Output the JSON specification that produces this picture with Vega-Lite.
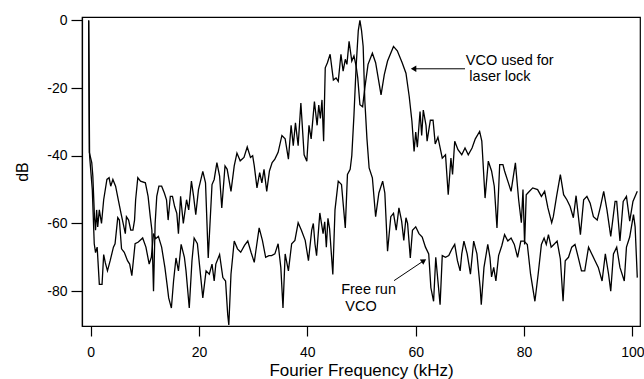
{
  "$schema": "https://vega.github.io/schema/vega-lite/v6.json",
  "autosize": {"type": "none"},
  "padding": {"left": 82, "top": 17, "right": 4, "bottom": 53},
  "width": 558,
  "height": 309,
  "config": {
    "font": "Liberation Sans",
    "view": {"stroke": "black", "strokeWidth": 1.2},
    "axis": {"domainColor": "black", "tickColor": "black", "labelColor": "black", "titleColor": "black", "grid": false, "labelFont": "Liberation Sans", "titleFont": "Liberation Sans", "titleFontWeight": "normal", "domainWidth": 1.2, "tickWidth": 1.2}
  },
  "datasets": {
    "traces": [
      {"s":"lock","f":-0.37,"d":0},{"s":"lock","f":-0.25,"d":-39},{"s":"lock","f":0.2,"d":-42},{"s":"lock","f":0.4,"d":-46},{"s":"lock","f":0.7,"d":-58},{"s":"lock","f":0.9,"d":-62},{"s":"lock","f":1.1,"d":-56},{"s":"lock","f":1.3,"d":-61},{"s":"lock","f":1.6,"d":-56},{"s":"lock","f":2.0,"d":-60},{"s":"lock","f":2.4,"d":-53},{"s":"lock","f":3.0,"d":-47},{"s":"lock","f":3.4,"d":-46.5},{"s":"lock","f":3.7,"d":-49},{"s":"lock","f":4.1,"d":-47},{"s":"lock","f":4.6,"d":-49},{"s":"lock","f":5.1,"d":-53},{"s":"lock","f":5.6,"d":-57},{"s":"lock","f":6.4,"d":-63},{"s":"lock","f":6.6,"d":-58},{"s":"lock","f":7.0,"d":-59},{"s":"lock","f":7.4,"d":-62},{"s":"lock","f":7.8,"d":-62},{"s":"lock","f":8.1,"d":-59},{"s":"lock","f":8.3,"d":-53},{"s":"lock","f":8.7,"d":-46.5},{"s":"lock","f":9.2,"d":-47.5},{"s":"lock","f":10.1,"d":-48},{"s":"lock","f":10.6,"d":-52},{"s":"lock","f":11.0,"d":-58},{"s":"lock","f":11.3,"d":-62},{"s":"lock","f":11.6,"d":-80},{"s":"lock","f":11.9,"d":-60},{"s":"lock","f":12.2,"d":-52},{"s":"lock","f":12.6,"d":-49},{"s":"lock","f":13.1,"d":-49},{"s":"lock","f":13.6,"d":-51},{"s":"lock","f":14.0,"d":-53},{"s":"lock","f":14.3,"d":-59},{"s":"lock","f":14.7,"d":-52},{"s":"lock","f":15.1,"d":-52},{"s":"lock","f":15.5,"d":-55},{"s":"lock","f":15.9,"d":-57},{"s":"lock","f":16.2,"d":-63},{"s":"lock","f":16.6,"d":-52},{"s":"lock","f":17.1,"d":-60},{"s":"lock","f":17.7,"d":-53},{"s":"lock","f":18.1,"d":-56},{"s":"lock","f":18.6,"d":-47.5},{"s":"lock","f":19.0,"d":-52},{"s":"lock","f":19.4,"d":-57.4},{"s":"lock","f":19.9,"d":-50},{"s":"lock","f":20.7,"d":-44.6},{"s":"lock","f":21.2,"d":-48},{"s":"lock","f":21.7,"d":-70.2},{"s":"lock","f":22.4,"d":-48.5},{"s":"lock","f":22.8,"d":-47},{"s":"lock","f":23.3,"d":-42},{"s":"lock","f":23.8,"d":-46},{"s":"lock","f":24.2,"d":-55.4},{"s":"lock","f":24.8,"d":-43},{"s":"lock","f":25.2,"d":-44},{"s":"lock","f":25.9,"d":-50.5},{"s":"lock","f":26.5,"d":-43},{"s":"lock","f":27.0,"d":-39.2},{"s":"lock","f":27.6,"d":-41.5},{"s":"lock","f":28.3,"d":-40.5},{"s":"lock","f":28.9,"d":-37.4},{"s":"lock","f":29.5,"d":-40.5},{"s":"lock","f":29.9,"d":-40},{"s":"lock","f":30.2,"d":-43},{"s":"lock","f":30.7,"d":-49.5},{"s":"lock","f":31.2,"d":-45},{"s":"lock","f":31.6,"d":-48},{"s":"lock","f":32.0,"d":-44},{"s":"lock","f":32.5,"d":-50.5},{"s":"lock","f":33.0,"d":-44.5},{"s":"lock","f":33.5,"d":-42},{"s":"lock","f":34.0,"d":-41},{"s":"lock","f":34.6,"d":-39},{"s":"lock","f":35.3,"d":-34},{"s":"lock","f":35.9,"d":-35},{"s":"lock","f":36.5,"d":-41},{"s":"lock","f":37.0,"d":-31},{"s":"lock","f":37.4,"d":-37},{"s":"lock","f":37.8,"d":-30.3},{"s":"lock","f":38.3,"d":-37},{"s":"lock","f":38.8,"d":-24.4},{"s":"lock","f":39.4,"d":-39.7},{"s":"lock","f":39.9,"d":-41.6},{"s":"lock","f":40.3,"d":-31},{"s":"lock","f":40.7,"d":-35},{"s":"lock","f":41.3,"d":-24},{"s":"lock","f":41.8,"d":-31},{"s":"lock","f":42.1,"d":-25},{"s":"lock","f":42.4,"d":-29},{"s":"lock","f":42.7,"d":-23.5},{"s":"lock","f":43.0,"d":-35.7},{"s":"lock","f":43.3,"d":-14},{"s":"lock","f":43.7,"d":-12.5},{"s":"lock","f":44.2,"d":-10},{"s":"lock","f":44.8,"d":-17.6},{"s":"lock","f":45.3,"d":-17},{"s":"lock","f":45.7,"d":-18},{"s":"lock","f":46.2,"d":-10},{"s":"lock","f":46.6,"d":-15},{"s":"lock","f":47.0,"d":-11.5},{"s":"lock","f":47.3,"d":-13},{"s":"lock","f":47.7,"d":-6.2},{"s":"lock","f":48.2,"d":-12},{"s":"lock","f":48.6,"d":-10.5},{"s":"lock","f":49.0,"d":-13.5},{"s":"lock","f":49.3,"d":-17},{"s":"lock","f":49.7,"d":-24.9},{"s":"lock","f":50.2,"d":-25.5},{"s":"lock","f":50.6,"d":-20},{"s":"lock","f":51.2,"d":-13},{"s":"lock","f":52.0,"d":-9.7},{"s":"lock","f":52.6,"d":-12.5},{"s":"lock","f":53.6,"d":-22},{"s":"lock","f":54.2,"d":-16},{"s":"lock","f":54.8,"d":-12},{"s":"lock","f":55.9,"d":-7.7},{"s":"lock","f":56.6,"d":-9},{"s":"lock","f":57.5,"d":-12.5},{"s":"lock","f":58.2,"d":-15.6},{"s":"lock","f":58.8,"d":-22.5},{"s":"lock","f":59.3,"d":-29.8},{"s":"lock","f":59.7,"d":-38.7},{"s":"lock","f":60.0,"d":-33},{"s":"lock","f":60.3,"d":-37.5},{"s":"lock","f":60.8,"d":-26.9},{"s":"lock","f":61.1,"d":-34},{"s":"lock","f":61.4,"d":-26.5},{"s":"lock","f":61.9,"d":-31},{"s":"lock","f":62.1,"d":-35.7},{"s":"lock","f":62.7,"d":-29.5},{"s":"lock","f":63.2,"d":-29.5},{"s":"lock","f":63.6,"d":-36.5},{"s":"lock","f":64.1,"d":-34.5},{"s":"lock","f":64.9,"d":-40.7},{"s":"lock","f":65.5,"d":-39.7},{"s":"lock","f":66.0,"d":-51.5},{"s":"lock","f":66.5,"d":-40.7},{"s":"lock","f":66.8,"d":-45.5},{"s":"lock","f":67.2,"d":-35.7},{"s":"lock","f":67.8,"d":-38.2},{"s":"lock","f":68.5,"d":-39.7},{"s":"lock","f":69.1,"d":-37.7},{"s":"lock","f":69.7,"d":-39.7},{"s":"lock","f":70.4,"d":-37.7},{"s":"lock","f":71.0,"d":-35},{"s":"lock","f":71.8,"d":-32.8},{"s":"lock","f":72.2,"d":-35.7},{"s":"lock","f":72.8,"d":-52.5},{"s":"lock","f":73.4,"d":-41.6},{"s":"lock","f":74.0,"d":-44.5},{"s":"lock","f":74.5,"d":-49},{"s":"lock","f":75.0,"d":-61.3},{"s":"lock","f":75.5,"d":-42.6},{"s":"lock","f":76.1,"d":-42.6},{"s":"lock","f":76.4,"d":-44.5},{"s":"lock","f":77.0,"d":-47.5},{"s":"lock","f":77.6,"d":-50.5},{"s":"lock","f":78.4,"d":-42.1},{"s":"lock","f":79.0,"d":-53},{"s":"lock","f":79.5,"d":-59.8},{"s":"lock","f":79.8,"d":-50},{"s":"lock","f":80.1,"d":-66.2},{"s":"lock","f":80.4,"d":-51.5},{"s":"lock","f":81.0,"d":-50.5},{"s":"lock","f":81.6,"d":-49.5},{"s":"lock","f":82.5,"d":-50},{"s":"lock","f":83.2,"d":-52},{"s":"lock","f":83.8,"d":-50.5},{"s":"lock","f":84.4,"d":-55.4},{"s":"lock","f":85.1,"d":-59.8},{"s":"lock","f":85.4,"d":-58},{"s":"lock","f":86.0,"d":-52},{"s":"lock","f":86.7,"d":-45.6},{"s":"lock","f":87.3,"d":-51.5},{"s":"lock","f":87.9,"d":-53},{"s":"lock","f":88.5,"d":-55},{"s":"lock","f":89.1,"d":-58.3},{"s":"lock","f":89.6,"d":-51.8},{"s":"lock","f":90.4,"d":-63.3},{"s":"lock","f":91.0,"d":-53},{"s":"lock","f":91.6,"d":-52},{"s":"lock","f":92.2,"d":-54},{"s":"lock","f":92.8,"d":-58},{"s":"lock","f":93.5,"d":-59},{"s":"lock","f":94.1,"d":-55},{"s":"lock","f":94.7,"d":-50.5},{"s":"lock","f":95.3,"d":-56},{"s":"lock","f":96.0,"d":-63.8},{"s":"lock","f":96.8,"d":-53.5},{"s":"lock","f":97.1,"d":-53.5},{"s":"lock","f":97.7,"d":-65.2},{"s":"lock","f":98.3,"d":-53.5},{"s":"lock","f":98.9,"d":-52},{"s":"lock","f":99.5,"d":-59.3},{"s":"lock","f":100.1,"d":-53.5},{"s":"lock","f":100.9,"d":-50.5},
      {"s":"free","f":-0.37,"d":0},{"s":"free","f":-0.2,"d":-40},{"s":"free","f":0.3,"d":-50},{"s":"free","f":0.66,"d":-66},{"s":"free","f":0.9,"d":-68.6},{"s":"free","f":1.2,"d":-67},{"s":"free","f":1.6,"d":-78},{"s":"free","f":2.1,"d":-78},{"s":"free","f":2.4,"d":-69.2},{"s":"free","f":2.7,"d":-71.6},{"s":"free","f":3.1,"d":-74},{"s":"free","f":3.6,"d":-71},{"s":"free","f":4.2,"d":-67},{"s":"free","f":4.5,"d":-66},{"s":"free","f":5.0,"d":-58.3},{"s":"free","f":5.3,"d":-59},{"s":"free","f":5.7,"d":-67.5},{"s":"free","f":6.2,"d":-68.5},{"s":"free","f":6.8,"d":-71},{"s":"free","f":7.2,"d":-72},{"s":"free","f":7.6,"d":-75.4},{"s":"free","f":8.2,"d":-66},{"s":"free","f":8.8,"d":-65.5},{"s":"free","f":9.6,"d":-64.3},{"s":"free","f":10.2,"d":-67},{"s":"free","f":10.8,"d":-72},{"s":"free","f":11.2,"d":-70},{"s":"free","f":11.6,"d":-63},{"s":"free","f":12.0,"d":-64.5},{"s":"free","f":12.5,"d":-63.8},{"s":"free","f":13.1,"d":-67},{"s":"free","f":13.7,"d":-73},{"s":"free","f":14.1,"d":-78},{"s":"free","f":14.4,"d":-82},{"s":"free","f":14.9,"d":-85},{"s":"free","f":15.3,"d":-77},{"s":"free","f":15.75,"d":-70.2},{"s":"free","f":16.2,"d":-74},{"s":"free","f":16.7,"d":-66.2},{"s":"free","f":17.3,"d":-70},{"s":"free","f":17.6,"d":-74},{"s":"free","f":18.2,"d":-85},{"s":"free","f":18.7,"d":-71},{"s":"free","f":19.1,"d":-64.3},{"s":"free","f":19.7,"d":-66},{"s":"free","f":20.2,"d":-74},{"s":"free","f":20.7,"d":-82},{"s":"free","f":21.3,"d":-74},{"s":"free","f":21.9,"d":-75},{"s":"free","f":22.4,"d":-72},{"s":"free","f":22.8,"d":-77},{"s":"free","f":23.1,"d":-72},{"s":"free","f":23.8,"d":-69.2},{"s":"free","f":24.4,"d":-76},{"s":"free","f":24.9,"d":-77},{"s":"free","f":25.3,"d":-87},{"s":"free","f":25.5,"d":-90},{"s":"free","f":25.9,"d":-75},{"s":"free","f":26.5,"d":-65.2},{"s":"free","f":27.1,"d":-67.5},{"s":"free","f":27.7,"d":-68.5},{"s":"free","f":28.4,"d":-66.5},{"s":"free","f":29.0,"d":-65.2},{"s":"free","f":29.6,"d":-68.5},{"s":"free","f":30.2,"d":-71.5},{"s":"free","f":30.5,"d":-68},{"s":"free","f":31.1,"d":-61.3},{"s":"free","f":31.7,"d":-65},{"s":"free","f":32.3,"d":-70},{"s":"free","f":32.9,"d":-69.5},{"s":"free","f":33.4,"d":-69.5},{"s":"free","f":34.0,"d":-69},{"s":"free","f":34.6,"d":-66},{"s":"free","f":35.1,"d":-73},{"s":"free","f":35.5,"d":-85},{"s":"free","f":35.9,"d":-69},{"s":"free","f":36.5,"d":-74},{"s":"free","f":37.1,"d":-66},{"s":"free","f":37.7,"d":-65},{"s":"free","f":38.3,"d":-59.8},{"s":"free","f":38.9,"d":-62},{"s":"free","f":39.6,"d":-65},{"s":"free","f":40.2,"d":-71},{"s":"free","f":40.8,"d":-62},{"s":"free","f":41.1,"d":-60},{"s":"free","f":41.4,"d":-66},{"s":"free","f":41.7,"d":-69.5},{"s":"free","f":42.3,"d":-56.9},{"s":"free","f":42.9,"d":-63},{"s":"free","f":43.2,"d":-59.5},{"s":"free","f":43.5,"d":-67},{"s":"free","f":43.8,"d":-58.5},{"s":"free","f":44.1,"d":-61.5},{"s":"free","f":44.7,"d":-75.1},{"s":"free","f":45.1,"d":-56},{"s":"free","f":45.7,"d":-47.5},{"s":"free","f":46.3,"d":-48.5},{"s":"free","f":47.0,"d":-61.3},{"s":"free","f":47.4,"d":-45.5},{"s":"free","f":47.9,"d":-44},{"s":"free","f":48.2,"d":-40},{"s":"free","f":48.6,"d":-28},{"s":"free","f":49.0,"d":-13.6},{"s":"free","f":49.4,"d":-3},{"s":"free","f":49.7,"d":0},{"s":"free","f":50.0,"d":-3},{"s":"free","f":50.3,"d":-7.7},{"s":"free","f":50.6,"d":-23.5},{"s":"free","f":51.0,"d":-35},{"s":"free","f":51.4,"d":-43.6},{"s":"free","f":52.0,"d":-46.5},{"s":"free","f":52.6,"d":-58},{"s":"free","f":53.2,"d":-51},{"s":"free","f":53.9,"d":-47.5},{"s":"free","f":54.3,"d":-51},{"s":"free","f":54.8,"d":-68.2},{"s":"free","f":55.4,"d":-58},{"s":"free","f":55.9,"d":-57},{"s":"free","f":56.4,"d":-62},{"s":"free","f":56.9,"d":-55.4},{"s":"free","f":57.4,"d":-59.3},{"s":"free","f":57.8,"d":-65},{"s":"free","f":58.2,"d":-58.3},{"s":"free","f":58.5,"d":-60},{"s":"free","f":59.0,"d":-70.2},{"s":"free","f":59.4,"d":-62},{"s":"free","f":60.0,"d":-61},{"s":"free","f":60.6,"d":-63},{"s":"free","f":61.2,"d":-64},{"s":"free","f":61.8,"d":-67},{"s":"free","f":62.4,"d":-69},{"s":"free","f":62.8,"d":-79},{"s":"free","f":63.3,"d":-83},{"s":"free","f":63.7,"d":-70},{"s":"free","f":64.1,"d":-77},{"s":"free","f":64.5,"d":-84},{"s":"free","f":64.9,"d":-69.5},{"s":"free","f":65.5,"d":-70},{"s":"free","f":66.1,"d":-69.5},{"s":"free","f":66.7,"d":-67.5},{"s":"free","f":67.2,"d":-66.2},{"s":"free","f":67.7,"d":-71},{"s":"free","f":68.2,"d":-74},{"s":"free","f":68.5,"d":-69},{"s":"free","f":68.9,"d":-65.2},{"s":"free","f":69.5,"d":-69},{"s":"free","f":70.1,"d":-75},{"s":"free","f":70.7,"d":-65.2},{"s":"free","f":71.3,"d":-69},{"s":"free","f":71.9,"d":-79},{"s":"free","f":72.1,"d":-84},{"s":"free","f":72.6,"d":-73},{"s":"free","f":73.3,"d":-66.2},{"s":"free","f":73.7,"d":-70},{"s":"free","f":74.0,"d":-75.8},{"s":"free","f":74.4,"d":-73},{"s":"free","f":74.8,"d":-77},{"s":"free","f":75.3,"d":-69.5},{"s":"free","f":75.9,"d":-66.5},{"s":"free","f":76.4,"d":-63.3},{"s":"free","f":77.0,"d":-65.2},{"s":"free","f":77.6,"d":-64.3},{"s":"free","f":78.2,"d":-66.2},{"s":"free","f":78.8,"d":-70},{"s":"free","f":79.4,"d":-65.2},{"s":"free","f":80.0,"d":-65.2},{"s":"free","f":80.6,"d":-66.2},{"s":"free","f":81.2,"d":-75},{"s":"free","f":82.0,"d":-83},{"s":"free","f":82.6,"d":-75},{"s":"free","f":83.2,"d":-66.2},{"s":"free","f":83.7,"d":-64.3},{"s":"free","f":84.1,"d":-66.2},{"s":"free","f":84.5,"d":-63.3},{"s":"free","f":85.0,"d":-67},{"s":"free","f":85.5,"d":-66.2},{"s":"free","f":86.1,"d":-65.2},{"s":"free","f":86.7,"d":-70.5},{"s":"free","f":87.2,"d":-83},{"s":"free","f":87.6,"d":-71},{"s":"free","f":88.2,"d":-70},{"s":"free","f":88.8,"d":-67},{"s":"free","f":89.4,"d":-66.2},{"s":"free","f":90.0,"d":-70},{"s":"free","f":90.6,"d":-74},{"s":"free","f":91.2,"d":-74},{"s":"free","f":91.9,"d":-67},{"s":"free","f":92.5,"d":-69},{"s":"free","f":93.1,"d":-71},{"s":"free","f":93.7,"d":-73},{"s":"free","f":94.4,"d":-77},{"s":"free","f":95.0,"d":-69},{"s":"free","f":95.6,"d":-75},{"s":"free","f":96.0,"d":-80},{"s":"free","f":96.5,"d":-69},{"s":"free","f":97.1,"d":-67},{"s":"free","f":97.7,"d":-73},{"s":"free","f":98.5,"d":-77},{"s":"free","f":98.9,"d":-67},{"s":"free","f":99.5,"d":-64},{"s":"free","f":100.2,"d":-57.4},{"s":"free","f":100.5,"d":-61},{"s":"free","f":100.9,"d":-76}
    ],
    "leftlabels": [
      {"f":69.25,"d":-11.9,"t":"VCO used for"},
      {"f":69.9,"d":-16.7,"t":"laser lock"}
    ],
    "centerlabels": [
      {"f":51.3,"d":-79.8,"t":"Free run"},
      {"f":49.9,"d":-84.7,"t":"VCO"}
    ],
    "arrows": [
      {"f":69.1,"d":-14.3,"f2":59.6,"d2":-14.3,"shape":"triangle-left","ang":0},
      {"f":56.0,"d":-76.9,"f2":61.5,"d2":-71.0,"shape":"triangle-right","ang":-34}
    ]
  },
  "layer": [
    {
      "data": {"name": "traces"},
      "mark": {"type": "line", "color": "black", "strokeWidth": 1.3, "clip": true},
      "encoding": {
        "x": {"field": "f", "type": "quantitative", "scale": {"domain": [-1.6, 101.4], "nice": false, "zero": false},
          "axis": {"values": [0, 20, 40, 60, 80, 100], "title": "Fourier Frequency (kHz)", "labelExpr": "datum.value + ''", "labelFontSize": 14, "titleFontSize": 17, "tickSize": 10, "labelPadding": 9, "titlePadding": 3}},
        "y": {"field": "d", "type": "quantitative", "scale": {"domain": [-90.3, 1], "nice": false, "zero": false},
          "axis": {"values": [0, -20, -40, -60, -80], "title": "dB", "labelExpr": "datum.value + ''", "labelFontSize": 14, "titleFontSize": 16, "tickSize": 11, "labelPadding": 4, "titlePadding": 16}},
        "detail": {"field": "s", "type": "nominal"}
      }
    },
    {
      "data": {"name": "arrows"},
      "mark": {"type": "rule", "color": "black", "strokeWidth": 1},
      "encoding": {
        "x": {"field": "f", "type": "quantitative"},
        "y": {"field": "d", "type": "quantitative"},
        "x2": {"field": "f2"},
        "y2": {"field": "d2"}
      }
    },
    {
      "data": {"name": "arrows"},
      "mark": {"type": "point", "filled": true, "color": "black", "opacity": 1, "size": 40},
      "encoding": {
        "x": {"field": "f2", "type": "quantitative"},
        "y": {"field": "d2", "type": "quantitative"},
        "shape": {"field": "shape", "type": "nominal", "scale": null},
        "angle": {"field": "ang", "type": "quantitative", "scale": null}
      }
    },
    {
      "data": {"name": "leftlabels"},
      "mark": {"type": "text", "fontSize": 14.5, "color": "black", "baseline": "middle", "align": "left", "font": "Liberation Sans"},
      "encoding": {
        "x": {"field": "f", "type": "quantitative"},
        "y": {"field": "d", "type": "quantitative"},
        "text": {"field": "t", "type": "nominal"}
      }
    },
    {
      "data": {"name": "centerlabels"},
      "mark": {"type": "text", "fontSize": 14.5, "color": "black", "baseline": "middle", "align": "center", "font": "Liberation Sans"},
      "encoding": {
        "x": {"field": "f", "type": "quantitative"},
        "y": {"field": "d", "type": "quantitative"},
        "text": {"field": "t", "type": "nominal"}
      }
    }
  ]
}
